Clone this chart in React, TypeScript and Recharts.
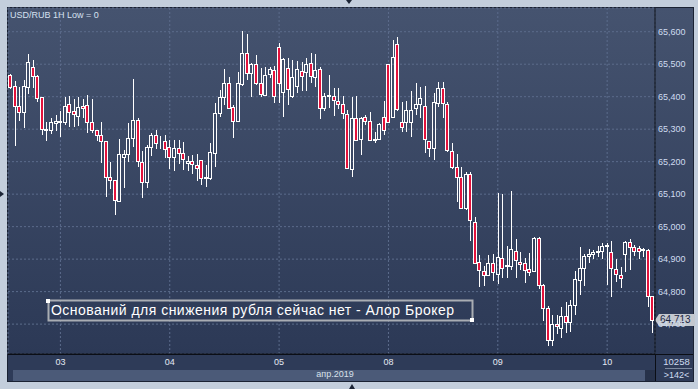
import { ComposedChart, Bar, XAxis, YAxis, CartesianGrid, ReferenceLine } from "recharts";

// USD/RUB 1H, 142 hourly bars (03.04 - 10.04.2019)
const opens = [
  65467, 65433, 65371, 65354, 65429, 65490, 65464, 65398, 65297, 65297, 65319, 65322, 65321, 65377, 65357, 65341,
  65371, 65373, 65323, 65297, 65282, 65264, 65153, 65143, 65080, 65215, 65224, 65272, 65328, 65200, 65138, 65244,
  65282, 65260, 65264, 65244, 65213, 65241, 65228, 65197, 65202, 65190, 65204, 65150, 65151, 65226, 65349, 65400,
  65441, 65367, 65326, 65438, 65533, 65472, 65500, 65441, 65405, 65469, 65482, 65554, 65413, 65489, 65403, 65434,
  65480, 65477, 65503, 65460, 65485, 65364, 65402, 65402, 65387, 65378, 65346, 65177, 65334, 65269, 65336, 65326,
  65267, 65270, 65336, 65500, 65337, 65561, 65321, 65323, 65321, 65364, 65377, 65371, 65264, 65241, 65380, 65428,
  65377, 65234, 65183, 65154, 65056, 65161, 65015, 64892, 64864, 64851, 64887, 64853, 64905, 64879, 64880, 64926,
  64892, 64887, 64871, 64864, 64964, 64820, 64750, 64652, 64701, 64689, 64724, 64706, 64759, 64836, 64873, 64911,
  64916, 64921, 64924, 64939, 64923, 64870, 64852, 64916, 64954, 64937, 64934, 64929, 64929, 64788,
];
const highs = [
  65470, 65448, 65431, 65451, 65531, 65513, 65467, 65398, 65323, 65334, 65344, 65356, 65400, 65402, 65393, 65400,
  65393, 65405, 65393, 65297, 65321, 65264, 65200, 65143, 65269, 65236, 65318, 65454, 65333, 65233, 65251, 65289,
  65297, 65279, 65282, 65267, 65267, 65267, 65262, 65218, 65220, 65223, 65204, 65190, 65256, 65380, 65421, 65484,
  65460, 65374, 65477, 65602, 65593, 65503, 65528, 65489, 65492, 65490, 65495, 65564, 65518, 65518, 65513, 65510,
  65506, 65520, 65533, 65530, 65492, 65410, 65467, 65428, 65428, 65402, 65360, 65400, 65402, 65339, 65344, 65352,
  65292, 65320, 65387, 65502, 65574, 65585, 65385, 65387, 65416, 65441, 65431, 65433, 65264, 65411, 65444, 65444,
  65385, 65259, 65224, 65185, 65169, 65167, 65031, 64912, 64879, 64912, 64916, 65104, 65100, 64940, 65110, 64961,
  64921, 64905, 64920, 64969, 64969, 64825, 64757, 64727, 64727, 64752, 64768, 64773, 64862, 64937, 64916, 64931,
  64929, 64940, 64950, 64950, 64957, 64901, 64875, 64957, 64962, 64944, 64939, 64934, 64931, 64788,
];
const lows = [
  65425, 65249, 65325, 65305, 65407, 65426, 65385, 65282, 65265, 65285, 65295, 65276, 65313, 65308, 65308, 65310,
  65334, 65288, 65288, 65265, 65195, 65090, 65117, 65036, 65075, 65118, 65200, 65246, 65185, 65089, 65118, 65218,
  65239, 65239, 65210, 65176, 65171, 65192, 65174, 65171, 65161, 65140, 65128, 65123, 65143, 65185, 65339, 65375,
  65362, 65272, 65321, 65434, 65451, 65400, 65436, 65400, 65403, 65456, 65382, 65380, 65339, 65374, 65397, 65412,
  65416, 65418, 65441, 65431, 65331, 65356, 65364, 65342, 65361, 65331, 65178, 65154, 65264, 65219, 65313, 65264,
  65257, 65267, 65282, 65318, 65335, 65355, 65290, 65292, 65277, 65344, 65334, 65226, 65213, 65205, 65367, 65334,
  65231, 65176, 65077, 65053, 65051, 64957, 64885, 64813, 64817, 64848, 64833, 64822, 64843, 64841, 64868, 64841,
  64868, 64828, 64849, 64862, 64807, 64710, 64634, 64634, 64670, 64658, 64673, 64677, 64729, 64790, 64817, 64888,
  64901, 64906, 64900, 64819, 64783, 64829, 64810, 64860, 64867, 64911, 64901, 64906, 64754, 64672,
];
const closes = [
  65429, 65372, 65354, 65433, 65508, 65464, 65395, 65300, 65300, 65322, 65325, 65324, 65371, 65354, 65346, 65368,
  65365, 65321, 65297, 65282, 65265, 65153, 65143, 65083, 65225, 65224, 65272, 65328, 65203, 65138, 65244, 65282,
  65258, 65262, 65239, 65213, 65241, 65226, 65207, 65202, 65192, 65179, 65151, 65152, 65229, 65349, 65400, 65441,
  65366, 65326, 65441, 65533, 65472, 65500, 65441, 65407, 65467, 65484, 65402, 65441, 65515, 65423, 65462, 65484,
  65464, 65500, 65464, 65482, 65364, 65403, 65404, 65389, 65377, 65349, 65180, 65334, 65267, 65334, 65326, 65267,
  65270, 65315, 65298, 65323, 65523, 65361, 65306, 65359, 65359, 65377, 65397, 65269, 65241, 65385, 65428, 65380,
  65236, 65183, 65154, 65056, 65161, 65020, 64889, 64866, 64851, 64889, 64859, 64907, 64874, 64882, 64930, 64897,
  64885, 64866, 64859, 64964, 64820, 64751, 64650, 64701, 64693, 64724, 64706, 64759, 64839, 64873, 64911, 64916,
  64923, 64926, 64939, 64944, 64873, 64855, 64842, 64954, 64937, 64926, 64924, 64931, 64785, 64713,
];

const dayLabels = ["03", "04", "05", "08", "09", "10"];
const dayTickBars = ["11", "35", "59", "83", "107", "131"];
const priceTicks = [64700, 64800, 64900, 65000, 65100, 65200, 65300, 65400, 65500, 65600];
const priceDomain = [64608, 65673];
const lastPrice = 64713;

const data = opens.map((open, i) => ({
  t: String(i),
  open,
  high: highs[i],
  low: lows[i],
  close: closes[i],
  range: [lows[i], highs[i]],
}));

const FONT = '"Liberation Sans", Arial, sans-serif';
const RED = "#e3123c";

function Candle(props: any) {
  const { x, y, width, height, payload } = props;
  if (!payload) return null;
  const { open, close, high, low } = payload;
  const top = Math.min(y, y + height);
  const h = Math.abs(height);
  const k = high === low ? 0 : h / (high - low);
  const py = (v: number) => Math.round(top + (high - v) * k);
  const cx = Math.round(x + width / 2);
  const up = close >= open;
  const bTop = py(Math.max(open, close));
  const bBot = py(Math.min(open, close));
  const hi = py(high);
  const lo = py(low);
  return (
    <g>
      <line x1={cx + 0.5} x2={cx + 0.5} y1={hi} y2={bTop} stroke="#fff" />
      <line x1={cx + 0.5} x2={cx + 0.5} y1={bBot} y2={lo} stroke="#fff" />
      <rect
        x={cx - 1.5}
        y={bTop + 0.5}
        width={3}
        height={Math.max(0, bBot - bTop)}
        fill={up ? "none" : RED}
        stroke="#fff"
        strokeWidth={1}
      />
    </g>
  );
}

function PriceTag(props: any) {
  const vb = props.viewBox;
  if (!vb) return null;
  const right = vb.x + vb.width;
  const cy = vb.y;
  return (
    <g>
      <polygon
        points={`${right},${cy} ${right + 4},${cy - 6} ${right + 40},${cy - 6} ${right + 40},${cy + 6} ${right + 4},${cy + 6}`}
        fill="#c3c8cf"
      />
      <text x={right + 5} y={cy + 3.5} fontSize={10} fontFamily={FONT} fill="#1b2745">
        {lastPrice.toLocaleString("en-US")}
      </text>
    </g>
  );
}

export default function App() {
  return (
    <div style={{ position: "absolute", left: 0, top: 0, width: 698, height: 389, background: "#c3cedc", overflow: "hidden" }}>
      {/* panels */}
      <div style={{ position: "absolute", left: 7, top: 7, width: 687, height: 375, background: "#1a2233" }} />
      <div style={{ position: "absolute", left: 8, top: 8, width: 685, height: 346, background: "linear-gradient(#45536f, #2c3956)" }} />
      <div style={{ position: "absolute", left: 8, top: 354, width: 685, height: 27, background: "#2e3b58" }} />
      <div style={{ position: "absolute", left: 13, top: 370, width: 632, height: 11, background: "#4b5a78" }} />
      <div style={{ position: "absolute", left: 645, top: 370, width: 10, height: 11, background: "#27324a" }} />

      <div style={{ position: "absolute", left: 0, top: 0 }}>
        <ComposedChart
          width={698}
          height={389}
          data={data}
          margin={{ top: 8, left: 8, right: 0, bottom: 0 }}
          barCategoryGap={0}
        >
          <CartesianGrid stroke="#5c6c8c" strokeDasharray="2 2" />
          <XAxis
            dataKey="t"
            ticks={dayTickBars}
            interval={0}
            tickFormatter={(v) => dayLabels[dayTickBars.indexOf(String(v))] ?? ""}
            height={35}
            axisLine={{ stroke: "#0b0e15" }}
            tickLine={false}
            tickSize={0}
            tickMargin={5}
            tick={{ fill: "#e4eaf3", fontSize: 9, fontFamily: FONT }}
          />
          <YAxis
            orientation="right"
            width={43}
            domain={priceDomain}
            allowDataOverflow
            ticks={priceTicks}
            tickFormatter={(v) => Number(v).toLocaleString("en-US")}
            axisLine={{ stroke: "#0b0e15" }}
            tickLine={false}
            tickSize={0}
            tickMargin={3}
            tick={{ fill: "#cfdcf0", fontSize: 9, fontFamily: FONT, textAnchor: "start" }}
          />
          <Bar dataKey="range" barSize={4} shape={<Candle />} isAnimationActive={false} />
          <ReferenceLine y={lastPrice} stroke="none" label={<PriceTag />} />
        </ComposedChart>
      </div>

      <svg width={698} height={389} style={{ position: "absolute", left: 0, top: 0, pointerEvents: "none" }}>
        <line x1={8} x2={693} y1={354.5} y2={354.5} stroke="#0b0e15" />
        <line x1={655.5} x2={655.5} y1={354} y2={381} stroke="#0b0e15" />
        <text x={10} y={18} fontSize={9} fontFamily={FONT} fill="#d6e0f0">
          USD/RUB 1H Low = 0
        </text>

        <rect x={48.5} y={300.5} width={424} height={20} fill="none" stroke="#a9adb3" strokeWidth={2} />
        <rect x={46} y={299} width={4} height={4} fill="#fff" />
        <rect x={470} y={318} width={4} height={4} fill="#fff" />
        <text x={51} y={315} fontSize={14} fontFamily={FONT} fill="#fff" textLength={403} lengthAdjust="spacing">
          Оснований для снижения рубля сейчас нет - Алор Брокер
        </text>

        <text x={335} y={377} fontSize={9} fontFamily={FONT} fill="#d8e0ea" textAnchor="middle">
          апр.2019
        </text>
        <text x={676.5} y={365} fontSize={9.5} fontFamily={FONT} fill="#cfdcf0" textAnchor="middle">
          10258
        </text>
        <line x1={665} x2={692} y1={368.5} y2={368.5} stroke="#7d8aa0" />
        <text x={676.5} y={378} fontSize={9} fontFamily={FONT} fill="#cfdcf0" textAnchor="middle">
          {">142<"}
        </text>

        <polygon points="346,0 352,0 349,4" fill="#1c2536" />
        <polygon points="0,191 0,197 4,194" fill="#1c2536" />
        <polygon points="349,389 355,389 352,384" fill="#1c2536" />
      </svg>
    </div>
  );
}
